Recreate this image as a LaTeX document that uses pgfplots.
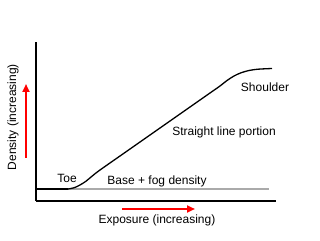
\documentclass[border=0pt]{standalone}
\usepackage{pgfplots}
\pgfplotsset{compat=1.18}
\usepackage{fontspec}
\setmainfont{Liberation Sans}
\usetikzlibrary{arrows.meta}
\begin{document}
\fontsize{12pt}{14pt}\selectfont
\begin{tikzpicture}[x=1pt,y=1pt]
\useasboundingbox (0,0) rectangle (320,240);
\begin{axis}[
  at={(36pt,39pt)}, anchor=south west,
  scale only axis, width=240pt, height=159pt,
  xmin=0, xmax=240, ymin=0, ymax=159,
  axis x line=bottom, axis y line=left,
  axis line style={-, line width=2pt, black},
  xtick=\empty, ytick=\empty,
  clip=false,
]
% base + fog level
\addplot[color={rgb,255:red,170;green,170;blue,170}, line width=1.6pt] coordinates {(32,12) (233,12)};
% flat start
\addplot[black, line width=2pt] coordinates {(0,12) (32,12)};
% characteristic curve
\addplot[black, line width=1.3pt, smooth, tension=0.5] coordinates {
(32,12) (38,13.2) (44,16) (50,19.8) (56,24.8) (64,31) (90,49.2) (120,70.2) (150,91.2) (174,108) (184,115) (191,120.5) (198,125) (205,128.2) (213,130.5) (222,131.8) (236,132.5)};
% red arrows
\addplot[red, line width=2pt, -{Triangle[length=8pt,width=7pt]}] coordinates {(-10,43) (-10,117)};
\addplot[red, line width=2pt, -{Triangle[length=8pt,width=7pt]}] coordinates {(86,-8) (159,-8)};
% labels
\node[rotate=90] at (axis cs:-23,84) {Density (increasing)};
\node at (axis cs:121,-19) {Exposure (increasing)};
\node at (axis cs:31,23) {Toe};
\node at (axis cs:121,20) {Base + fog density};
\node at (axis cs:188,69) {Straight line portion};
\node at (axis cs:229,114) {Shoulder};
\end{axis}
\end{tikzpicture}
\end{document}
